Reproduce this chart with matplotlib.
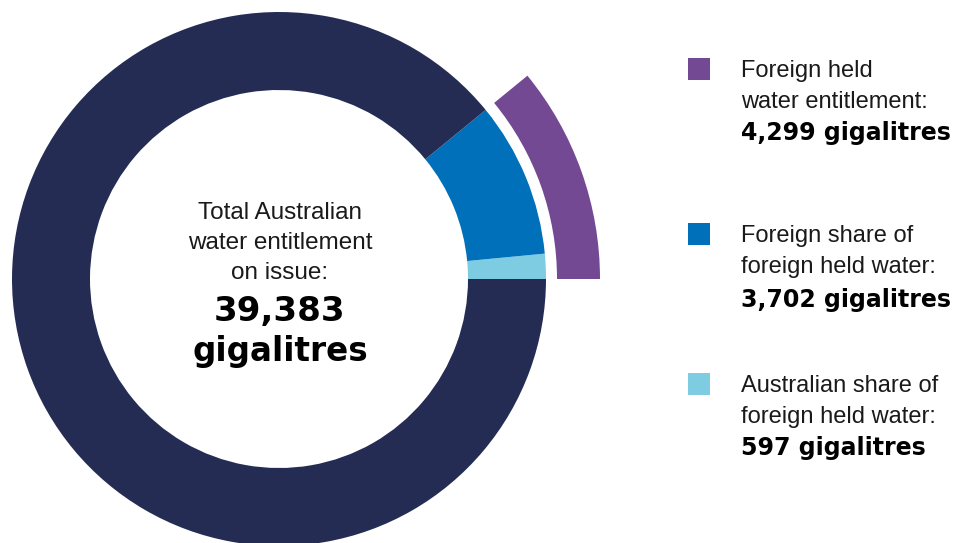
import matplotlib
matplotlib.use("Agg")
import matplotlib.pyplot as plt

# Data
total = 39383
foreign_held = 4299
foreign_share = 3702
australian_share = 597
rest = total - foreign_held

inner_values = [australian_share, foreign_share, rest]
inner_colors = ["#7ECCE2", "#0070BA", "#252C54"]
outer_values = [foreign_held, rest]
outer_colors = ["#734994", "none"]

legend_labels = [
    ("Foreign held\nwater entitlement:", "4,299 gigalitres", "#734994"),
    ("Foreign share of\nforeign held water:", "3,702 gigalitres", "#0070BA"),
    ("Australian share of\nforeign held water:", "597 gigalitres", "#7ECCE2"),
]
center_label = "Total Australian\nwater entitlement\non issue:"
center_value = "39,383\ngigalitres"

W, H = 957, 543
fig = plt.figure(figsize=(W / 100, H / 100), dpi=100)
ax = fig.add_axes([0, 0, 1, 1])

cx, cy = 279, H - 279
ax.pie(inner_values, colors=inner_colors, radius=267, center=(cx, cy),
       startangle=0, counterclock=True,
       wedgeprops=dict(width=78, linewidth=0))
ax.pie(outer_values, colors=outer_colors, radius=321, center=(cx, cy),
       startangle=0, counterclock=True,
       wedgeprops=dict(width=43, linewidth=0))

ax.set_xlim(0, W)
ax.set_ylim(0, H)
ax.set_aspect("equal")
ax.axis("off")

reg = dict(family=["Liberation Sans", "DejaVu Sans"], color="#1a1a1a")
heavy = dict(family=["DejaVu Sans"], fontweight="bold", color="#000000")

# center text
for i, line in enumerate(center_label.split("\n")):
    ax.text(280, H - (213 + 30 * i), line, ha="center", va="center", fontsize=17.5, **reg)
ax.text(280, H - 312, center_value.split("\n")[0], ha="center", va="center", fontsize=24.5, **heavy)
ax.text(280, H - 352, center_value.split("\n")[1], ha="center", va="center", fontsize=23.5, **heavy)

# legend
sq_y = [58, 223, 373]
for (lbl, val, col), y0 in zip(legend_labels, sq_y):
    ax.add_patch(plt.Rectangle((688, H - y0 - 22), 22, 22, color=col, lw=0))
    lines = lbl.split("\n")
    for j, line in enumerate(lines):
        ax.text(741, H - (y0 + 13 + 31 * j), line, ha="left", va="center", fontsize=17, **reg)
    ax.text(741, H - (y0 + 13 + 31 * 2 + (0 if y0 != 223 else 2)), val, ha="left",
            va="center", fontsize=17, **heavy)

fig.savefig("out.png", dpi=100)
